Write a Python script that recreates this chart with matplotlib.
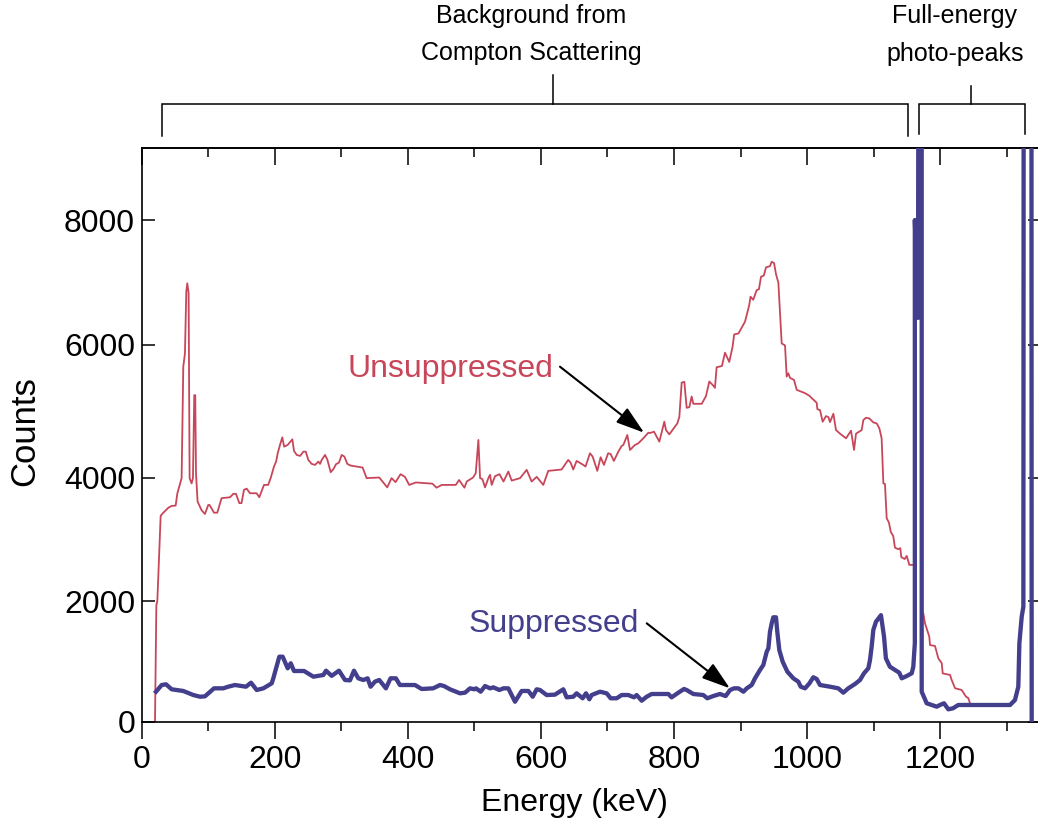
import numpy as np
import matplotlib
matplotlib.use('Agg')
import matplotlib.pyplot as plt
from matplotlib.lines import Line2D
from matplotlib.ticker import FixedLocator, MultipleLocator, NullLocator
from matplotlib import font_manager

# ---------------- data ----------------
red_energy = [20, 22, 23.5, 28.5, 32.5, 40, 45, 51, 53.5, 60, 62.5, 65, 67, 68.5, 70.5, 72, 75, 77,
              79, 80.5, 81.6, 84, 90, 95, 100, 102, 108.7, 113.6, 120, 132.7, 137.7, 141.7, 146.7,
              150, 153.7, 157.7, 162.7, 172.7, 176.7, 183.8, 190, 193.8, 198.8, 202, 204.4, 207.8,
              211.3, 214, 219.3, 226.4, 228.9, 233, 238, 243, 246.5, 250.4, 255.4, 260.5, 265.5,
              268, 270.5, 275.5, 279, 284, 288, 292, 296.5, 300.6, 304.6, 309, 314, 332, 338, 357,
              369, 375.5, 381.5, 389, 395.6, 402, 412, 437, 443, 451, 472, 477, 485, 488.5, 498,
              502, 506, 508.5, 512, 516, 521, 523.5, 526, 531, 537.7, 543.7, 551, 556, 568.6,
              578.6, 586, 593.6, 603.5, 611, 631, 641, 644.5, 648.6, 653.6, 663.6, 667, 673.7,
              677.7, 684.7, 689.7, 694.7, 701, 704.6, 709.6, 716.3, 721.3, 723.8, 729.8, 733.8,
              741.3, 746.3, 753.8, 761.4, 763.9, 769.9, 777.9, 785.4, 787.9, 792.9, 805, 808,
              811.5, 815.5, 819, 823, 826.5, 829, 841.6, 848, 853, 858, 861.5, 864, 872, 876.6,
              883, 888, 890.4, 896.8, 906.7, 913, 915, 919, 924.2, 927.6, 930.7, 935, 938.2,
              944.2, 946.8, 950.3, 953.3, 956.8, 961.8, 966.8, 969.3, 971.8, 974.3, 980.3, 984.4,
              996.9, 1003.5, 1014.4, 1015.4, 1019.4, 1023.4, 1028.4, 1032, 1034.4, 1039.5, 1043.4,
              1049.5, 1058.5, 1066, 1070.5, 1073.5, 1082, 1084.5, 1088.5, 1093.5, 1099.5, 1104.6,
              1108.6, 1112, 1114.6, 1117, 1119.6, 1123, 1125.7, 1129.5, 1132, 1136.6, 1140, 1141.6,
              1146.6, 1149.7, 1153.6, 1158.5, np.nan, 1174.6, 1177.2, 1183.6, 1184.7, 1192.2,
              1197.2, 1202.3, 1203.8, 1214.8, 1217.3, 1222.3, 1232.3, 1238.8, 1242.3, 1244.8]
red_counts = [0, 1930, 2000, 3380, 3430, 3510, 3540, 3545, 3740, 3990, 5670, 5870, 6850, 6985, 6825,
              3990, 3905, 3990, 5240, 5240, 4060, 3610, 3470, 3410, 3555, 3555, 3430, 3430, 3665,
              3680, 3735, 3735, 3585, 3585, 3800, 3820, 3745, 3745, 3680, 3880, 3880, 3990, 4165,
              4240, 4365, 4490, 4605, 4465, 4490, 4575, 4400, 4340, 4325, 4390, 4390, 4265, 4205,
              4190, 4240, 4205, 4265, 4340, 4270, 4080, 4125, 4200, 4225, 4340, 4315, 4205, 4180,
              4150, 3990, 4000, 3840, 3990, 3925, 4050, 4010, 3880, 3920, 3900, 3835, 3880, 3880,
              3960, 3835, 3935, 4000, 4065, 4565, 3990, 3975, 3840, 3990, 4040, 3880, 4020, 4050,
              3935, 4090, 3950, 3990, 4115, 3935, 4010, 3880, 4100, 4120, 4265, 4225, 4120, 4250,
              4190, 4165, 4365, 4315, 4100, 4305, 4190, 4365, 4355, 4250, 4390, 4475, 4490, 4640,
              4415, 4490, 4515, 4590, 4675, 4670, 4690, 4540, 4840, 4715, 4650, 4815, 4915, 5430,
              5440, 5050, 5060, 5220, 5110, 5110, 5225, 5445, 5395, 5350, 5660, 5680, 5880, 5740,
              5970, 6165, 6180, 6370, 6635, 6770, 6720, 6875, 6890, 7090, 7110, 7240, 7260, 7330,
              7310, 7130, 6995, 6020, 5990, 5520, 5570, 5500, 5470, 5320, 5270, 5230, 5125, 5030,
              5015, 4840, 4925, 4910, 4835, 4960, 4715, 4660, 4590, 4705, 4415, 4660, 4715, 4865,
              4900, 4890, 4830, 4815, 4740, 4590, 3905, 3895, 3340, 3270, 3120, 3050, 2865, 2840,
              2855, 2710, 2680, 2730, 2585, 2585, np.nan, 1795, 1630, 1410, 1270, 1255, 1050, 970,
              800, 775, 690, 555, 525, 415, 390, 305]

blue_energy = [21.5, 30, 36.5, 45, 62.5, 77.6, 87.6, 95, 108.7, 122.6, 130, 140.2, 156.7, 164.3,
               172.8, 182.8, 195.4, 197.8, 206.8, 211.9, 219.4, 224, 228.9, 244, 258, 273, 277,
               285.5, 296.5, 305.5, 313, 319, 325.5, 333, 339.5, 344, 350.5, 357, 367, 374, 382,
               388, 410.7, 420.7, 438, 448.3, 454.3, 463.3, 478.4, 485.9, 493.4, 500, 502.4, 509.4,
               516, 523.5, 528.5, 537.5, 543.5, 551, 561, 571, 581.1, 587.6, 593.6, 598.6, 608.6,
               621, 633.6, 638.6, 648.6, 653.6, 662.7, 667.7, 672.7, 676.2, 682.7, 688.8, 698.8,
               704.8, 713.8, 721.3, 731.3, 739.8, 743.8, 751.4, 758.9, 766.4, 791.4, 796.4, 806.5,
               815, 819, 829, 844, 850, 859, 869, 877.6, 884.2, 890.2, 896.8, 904.3, 909.3, 916.7,
               921.7, 929.2, 934.2, 939.3, 941.8, 944.2, 946.8, 949.2, 953.2, 955.2, 958.2, 963.3,
               970.3, 979.3, 986.8, 990.4, 996.9, 1003.5, 1009.3, 1014.4, 1019.4, 1034.4, 1046.9,
               1054.4, 1061.9, 1072, 1079.5, 1085.5, 1092, 1094.5, 1097, 1099.5, 1103.5, 1106.5,
               1111, 1115.6, 1118.4, 1124.4, 1132, 1138.5, 1142.2, 1149.7, 1157.2, 1159.6, 1161.9,
               1161.9, 1166.7, 1169.7, 1172.2, 1172.2, 1179.7, 1194.8, 1199.7, 1205.7, 1212.2,
               1219.2, 1227.2, 1305, 1312.4, 1317.4, 1319, 1322.5, 1325, 1326.5, 1336.5, 1337.5]
blue_counts = [497, 608, 620, 537, 509, 442, 414, 420, 553, 553, 580, 608, 580, 646, 525, 553, 636,
               719, 1077, 1077, 885, 968, 840, 840, 746, 774, 845, 760, 845, 691, 685, 845, 719,
               691, 719, 580, 663, 691, 553, 719, 719, 608, 608, 542, 553, 608, 591, 537, 470, 481,
               553, 537, 553, 497, 591, 553, 569, 525, 553, 553, 331, 509, 509, 414, 537, 525, 442,
               448, 537, 404, 414, 470, 388, 470, 372, 442, 470, 497, 470, 388, 388, 442, 442, 404,
               442, 348, 414, 459, 459, 404, 481, 542, 525, 459, 442, 388, 425, 459, 425, 525, 553,
               553, 497, 553, 608, 719, 857, 940, 1160, 1216, 1491, 1630, 1730, 1730, 1491, 1188,
               994, 829, 719, 663, 580, 553, 636, 736, 708, 608, 580, 553, 481, 553, 625, 691, 802,
               885, 1022, 1243, 1520, 1657, 1700, 1765, 1409, 1050, 911, 857, 812, 719, 757, 802,
               911, 1300, 8000, 6430, 30000, 30000, 497, 305, 249, 277, 305, 205, 222, 277, 277,
               360, 580, 1300, 1740, 1906, 30000, 30000, 0]

x_ticks = [0, 200, 400, 600, 800, 1000, 1200]
y_ticks = [0, 2000, 4000, 6000, 8000]

# ---------------- style ----------------
RED = '#C8465A'
BLUE = '#433F8C'
names = {f.name for f in font_manager.fontManager.ttflist}
NARROW = 'Liberation Sans Narrow' in names
FAM = ['Liberation Sans Narrow', 'Liberation Sans', 'DejaVu Sans'] if NARROW else ['Liberation Sans', 'DejaVu Sans']
k = 1.0 / 0.86 if NARROW else 1.0
plt.rcParams['font.family'] = FAM

W, H = 1038, 830
fig = plt.figure(figsize=(W / 100, H / 100), dpi=100)
L, R, T, B = 141.7, 1041.0, 148.0, 721.7
ax = fig.add_axes([L / W, 1 - B / H, (R - L) / W, (B - T) / H])

# the printed count axis is slightly non-uniform: reproduce it with a piecewise scale
Y_VAL = [-10000, 0, 2000, 4000, 6000, 8000, 100000]
Y_POS = [-603.5, 0, 120.7, 244.2, 377.0, 501.7, 6237.9]
ax.set_yscale('function', functions=(lambda v: np.interp(v, Y_VAL, Y_POS),
                                      lambda p: np.interp(p, Y_POS, Y_VAL)))

ax.plot(red_energy, red_counts, color=RED, lw=1.3, zorder=2)
ax.plot(blue_energy, blue_counts, color=BLUE, lw=3.1, zorder=3)

ax.set_xlim(0, 1351.5)
ax.set_ylim(0, 9155)

for s in ax.spines.values():
    s.set_linewidth(1.2)

ax.xaxis.set_major_locator(FixedLocator(x_ticks))
ax.xaxis.set_minor_locator(MultipleLocator(100))
ax.tick_params(axis='x', which='major', direction='out', length=12, width=1.1, pad=5,
               labelsize=23 * k, top=False)
ax.tick_params(axis='x', which='minor', direction='out', length=6.5, width=1.1, top=False)

ax.yaxis.set_major_locator(FixedLocator(y_ticks))
ax.yaxis.set_minor_locator(NullLocator())
ax.tick_params(axis='y', which='major', direction='in', length=9.5, width=1.1, pad=4.8,
               labelsize=23 * k, left=True, right=True, labelright=False)

sec = ax.secondary_xaxis('top')
sec.xaxis.set_major_locator(FixedLocator(x_ticks))
sec.xaxis.set_minor_locator(MultipleLocator(100))
sec.tick_params(which='major', direction='in', length=12, width=1.1, labeltop=False)
sec.tick_params(which='minor', direction='in', length=6.5, width=1.1)
sec.spines['top'].set_linewidth(1.2)

# annotations
ax.text(463.3, 5518, 'Unsuppressed', color=RED, ha='center', va='baseline', fontsize=23 * k)
ax.text(619.6, 1491, 'Suppressed', color=BLUE, ha='center', va='baseline', fontsize=23 * k)
arrow = dict(arrowstyle='-|>,head_length=0.87,head_width=0.28', color='black', lw=1.5,
             mutation_scale=20, shrinkA=0, shrinkB=0)
ax.annotate('', xy=(755, 4675), xytext=(628.6, 5669), arrowprops=arrow)
ax.annotate('', xy=(884, 553), xytext=(759, 1630), arrowprops=arrow)

# axis labels
fig.text(574 / W, 1 - 803 / H, 'Energy (keV)', ha='center', va='center', fontsize=23 * k)
fig.text(25 / W, 1 - 431 / H, 'Counts', ha='center', va='center', rotation=90, fontsize=25 * k)

# top labels and brackets
TS = 18 * k
fig.text(531 / W, 1 - 22.6 / H, 'Background from', ha='center', va='baseline', fontsize=TS)
fig.text(531 / W, 1 - 59.6 / H, 'Compton Scattering', ha='center', va='baseline', fontsize=TS)
fig.text(955 / W, 1 - 23.3 / H, 'Full-energy', ha='center', va='baseline', fontsize=TS)
fig.text(955 / W, 1 - 61.0 / H, 'photo-peaks', ha='center', va='baseline', fontsize=TS)


def fline(px, py):
    fig.add_artist(Line2D([p / W for p in px], [1 - q / H for q in py], color='black', lw=1.1,
                          solid_joinstyle='miter'))


fline([161.8, 161.8, 907.7, 907.7], [136, 104, 104, 136])
fline([553, 553], [104, 75])
fline([919.3, 919.3, 1025.3, 1025.3], [134.3, 104, 104, 134.3])
fline([970.7, 970.7], [104, 86])

fig.savefig('out.png', dpi=100)
